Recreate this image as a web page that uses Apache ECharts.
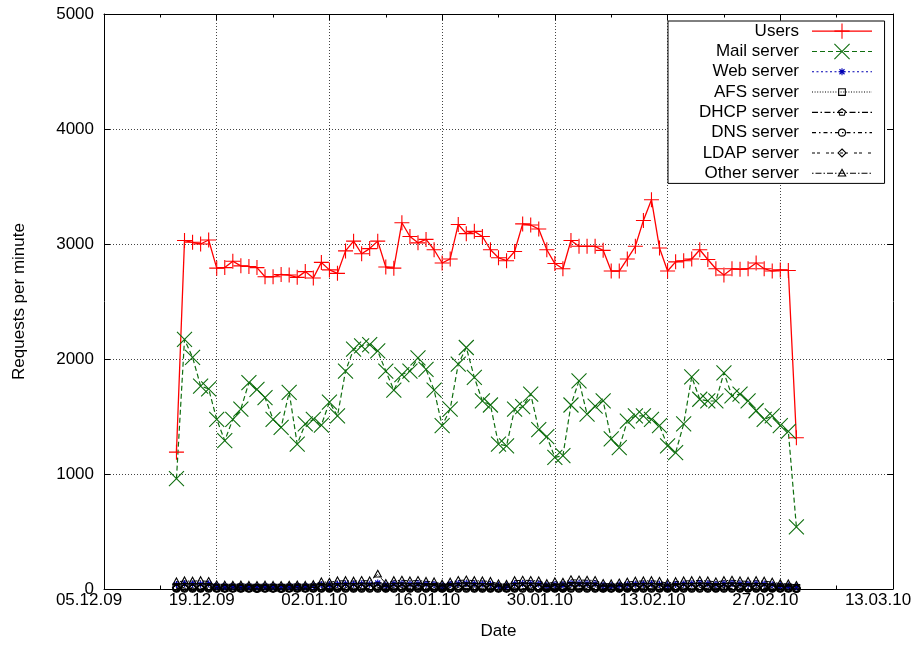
<!DOCTYPE html>
<html>
<head>
    <meta charset="utf-8">
    <title>Requests per minute</title>
    <script src="https://cdn.jsdelivr.net/npm/echarts@6/dist/echarts.min.js"></script>
    <style>
        html, body { margin: 0; padding: 0; background: #ffffff; }
        #chart { width: 918px; height: 645px; }
    </style>
</head>
<body>
<div id="chart"></div>
<script>
    // x positions are days after 05.12.09, first sample is 14.12.09 (one per day)
    var firstDay = 9;

    var users = [1190, 3030, 3015, 3000, 3035, 2790, 2795, 2850, 2810, 2805,
        2795, 2715, 2715, 2735, 2730, 2710, 2760, 2705, 2840, 2775,
        2745, 2940, 3025, 2915, 2960, 3025, 2800, 2790, 3185, 3065,
        3010, 3040, 2950, 2835, 2870, 3170, 3090, 3110, 3065, 2950,
        2880, 2855, 2935, 3175, 3165, 3130, 2950, 2830, 2785, 3030,
        2980, 2980, 2980, 2945, 2765, 2765, 2870, 2980, 3205, 3385,
        2965, 2765, 2845, 2855, 2870, 2950, 2865, 2785, 2730, 2785,
        2780, 2785, 2835, 2785, 2765, 2775, 2770, 1315];

    var mail = [960, 2170, 2015, 1765, 1740, 1475, 1290, 1475, 1565, 1795,
        1735, 1665, 1475, 1405, 1710, 1260, 1435, 1475, 1425, 1625,
        1505, 1895, 2085, 2115, 2125, 2070, 1895, 1730, 1865, 1895,
        2010, 1910, 1730, 1420, 1565, 1955, 2100, 1840, 1635, 1600,
        1260, 1245, 1565, 1585, 1695, 1385, 1325, 1145, 1160, 1600,
        1810, 1520, 1590, 1635, 1305, 1230, 1460, 1505, 1505, 1475,
        1420, 1245, 1185, 1435, 1845, 1650, 1635, 1635, 1880, 1680,
        1695, 1635, 1550, 1475, 1505, 1420, 1370, 540];

    var web = [40, 46, 44, 42, 45, 26, 24, 25, 27, 24,
        23, 25, 24, 23, 24, 26, 25, 28, 38, 36,
        42, 44, 43, 45, 41, 52, 34, 44, 46, 43,
        45, 42, 40, 30, 40, 46, 48, 44, 43, 41,
        30, 28, 44, 47, 46, 43, 32, 38, 36, 48,
        47, 46, 45, 33, 30, 34, 38, 42, 44, 46,
        41, 34, 40, 44, 46, 48, 45, 40, 46, 48,
        45, 42, 46, 43, 38, 30, 28, 20];

    var afs = [18, 20, 19, 18, 19, 12, 11, 12, 13, 12,
        11, 12, 11, 11, 12, 13, 12, 14, 18, 17,
        19, 20, 19, 21, 20, 24, 16, 20, 21, 19,
        20, 19, 18, 15, 18, 21, 22, 20, 19, 18,
        14, 13, 20, 22, 21, 19, 15, 17, 16, 22,
        21, 21, 20, 15, 14, 16, 17, 19, 20, 21,
        18, 15, 18, 20, 21, 22, 20, 18, 21, 22,
        20, 19, 21, 19, 17, 14, 13, 9];

    var dhcp = [5, 6, 6, 5, 6, 4, 4, 4, 5, 4,
        4, 4, 4, 4, 4, 5, 4, 5, 5, 5,
        6, 6, 6, 6, 6, 7, 5, 6, 6, 6,
        6, 6, 5, 5, 5, 6, 6, 6, 6, 5,
        4, 4, 6, 6, 6, 6, 5, 5, 5, 6,
        6, 6, 6, 5, 4, 5, 5, 6, 6, 6,
        5, 5, 5, 6, 6, 6, 6, 5, 6, 6,
        6, 5, 6, 5, 5, 4, 4, 3];

    var dns = [2, 3, 3, 2, 3, 2, 2, 2, 2, 2,
        1, 2, 2, 1, 2, 2, 2, 2, 2, 2,
        3, 3, 3, 3, 3, 3, 2, 3, 3, 3,
        3, 3, 2, 2, 2, 3, 3, 3, 3, 2,
        2, 2, 3, 3, 3, 3, 2, 2, 2, 3,
        3, 3, 3, 2, 2, 2, 2, 3, 3, 3,
        2, 2, 2, 3, 3, 3, 3, 2, 3, 3,
        3, 2, 3, 2, 2, 2, 2, 1];

    var ldap = [10, 12, 11, 11, 12, 8, 7, 8, 8, 8,
        7, 8, 7, 7, 8, 8, 8, 9, 10, 10,
        11, 12, 11, 12, 12, 13, 9, 11, 12, 11,
        12, 11, 10, 9, 10, 12, 12, 11, 11, 10,
        8, 8, 11, 12, 12, 11, 9, 10, 9, 12,
        12, 12, 11, 9, 8, 9, 10, 11, 11, 12,
        10, 9, 10, 11, 12, 12, 11, 10, 12, 12,
        11, 10, 11, 11, 10, 8, 8, 6];

    var other = [62, 70, 68, 72, 65, 35, 33, 32, 34, 31,
        30, 33, 31, 30, 32, 34, 31, 38, 62, 58,
        70, 72, 68, 74, 70, 128, 48, 72, 76, 70,
        74, 66, 62, 42, 60, 74, 78, 72, 70, 66,
        44, 40, 72, 76, 74, 70, 46, 62, 58, 80,
        78, 76, 74, 48, 44, 52, 60, 68, 70, 72,
        66, 50, 64, 70, 72, 74, 70, 62, 72, 76,
        70, 66, 72, 68, 60, 46, 44, 30];

    var fontFamily = '"Liberation Sans", Arial, Helvetica, sans-serif';

    // gnuplot style point types; the small ones carry empty corners so that
    // legend icons and plot points come out the same size
    var symPlus = 'path://M0,10L20,10M10,0L10,20';
    var symCross = 'path://M0,0L20,20M20,0L0,20';
    var symStar = 'path://M0,0M20,20M5.4,10L14.6,10M10,5.4L10,14.6M6.7,6.7L13.3,13.3M13.3,6.7L6.7,13.3';
    var symSquare = 'path://M0,0M20,20M5.6,5.6L14.4,5.6L14.4,14.4L5.6,14.4Z';
    var symPenta = 'path://M0,0M20,20M10,5.2L14.6,8.5L12.8,13.9L7.2,13.9L5.4,8.5Z';
    var symCircle = 'path://M0,0M20,20M14.6,10A4.6,4.6,0,1,1,5.4,10A4.6,4.6,0,1,1,14.6,10Z';
    var symDiamond = 'path://M0,0M20,20M10,4.8L15.2,10L10,15.2L4.8,10Z';
    var symTriangle = 'path://M0,0M20,20M10,4.8L14.8,13.6L5.2,13.6Z';

    function toPoints(values) {
        return values.map(function (v, i) { return [firstDay + i, v]; });
    }

    function dayLabel(v) {
        var d = new Date(Date.UTC(2009, 11, 5 + v));
        var dd = ('0' + d.getUTCDate()).slice(-2);
        var mm = ('0' + (d.getUTCMonth() + 1)).slice(-2);
        var yy = ('' + d.getUTCFullYear()).slice(-2);
        return dd + '.' + mm + '.' + yy;
    }

    function makeSeries(name, values, color, dash, symbol, size, width) {
        return {
            name: name,
            type: 'line',
            data: toPoints(values),
            symbol: symbol,
            symbolSize: size,
            showSymbol: true,
            lineStyle: { color: color, width: width, type: dash },
            itemStyle: { color: 'transparent', borderColor: color, borderWidth: 1.1 },
            emphasis: { disabled: true },
            silent: true
        };
    }

    var chart = echarts.init(document.getElementById('chart'), null, { renderer: 'canvas' });

    var tickStyle = { show: true, inside: true, length: 6, lineStyle: { color: '#000', width: 1 } };
    var minorStyle = { show: true, splitNumber: 2, length: 3.5, lineStyle: { color: '#000', width: 1 } };
    var gridLine = { show: true, lineStyle: { color: '#444', width: 1, type: [1, 2] } };

    var option = {
        animation: false,
        backgroundColor: '#ffffff',
        textStyle: { fontFamily: fontFamily },
        grid: { left: 104, right: 25, top: 14, bottom: 56 },
        legend: {
            orient: 'vertical',
            align: 'right',
            left: 668,
            top: 21,
            padding: [0, 12, 0, 6],
            itemWidth: 60,
            itemHeight: 19,
            itemGap: 0,
            backgroundColor: '#ffffff',
            borderColor: '#000',
            borderWidth: 1,
            selectedMode: false,
            itemStyle: { borderWidth: 1.1 },
            lineStyle: { width: 1.1 },
            textStyle: {
                fontFamily: fontFamily, fontSize: 17, color: '#000',
                width: 125, padding: [0, 8, 0, 0], lineHeight: 20.3
            }
        },
        xAxis: [{
            type: 'value',
            min: 0,
            max: 98,
            interval: 14,
            position: 'bottom',
            name: 'Date',
            nameLocation: 'middle',
            nameGap: 34,
            nameTextStyle: { fontSize: 17, color: '#000', fontFamily: fontFamily },
            axisLine: { show: true, lineStyle: { color: '#000', width: 1 } },
            axisTick: tickStyle,
            minorTick: minorStyle,
            splitLine: gridLine,
            axisLabel: {
                fontSize: 17, color: '#000', fontFamily: fontFamily,
                margin: 3, padding: [0, 30, 0, 0],
                formatter: dayLabel
            }
        }, {
            type: 'value',
            min: 0,
            max: 98,
            interval: 14,
            position: 'top',
            axisLine: { show: true, onZero: false, lineStyle: { color: '#000', width: 1 } },
            axisTick: tickStyle,
            minorTick: minorStyle,
            splitLine: { show: false },
            axisLabel: { show: false }
        }],
        yAxis: [{
            type: 'value',
            min: 0,
            max: 5000,
            interval: 1000,
            position: 'left',
            name: 'Requests per minute',
            nameLocation: 'middle',
            nameGap: 76,
            nameTextStyle: { fontSize: 17, color: '#000', fontFamily: fontFamily },
            axisLine: { show: true, lineStyle: { color: '#000', width: 1 } },
            axisTick: tickStyle,
            splitLine: gridLine,
            axisLabel: {
                fontSize: 17, color: '#000', fontFamily: fontFamily, margin: 10,
                formatter: function (v) { return String(v); }
            }
        }, {
            type: 'value',
            min: 0,
            max: 5000,
            interval: 1000,
            position: 'right',
            axisLine: { show: true, onZero: false, lineStyle: { color: '#000', width: 1 } },
            axisTick: tickStyle,
            splitLine: { show: false },
            axisLabel: { show: false }
        }],
        series: [
            makeSeries('Users', users, '#ff0000', 'solid', symPlus, 15, 1.3),
            makeSeries('Mail server', mail, '#0f6e0f', [5, 3], symCross, 15, 1.2),
            makeSeries('Web server', web, '#0000b4', [2, 2.5], symStar, 15.2, 1.2),
            makeSeries('AFS server', afs, '#000000', [1, 1.6], symSquare, 15.2, 1),
            makeSeries('DHCP server', dhcp, '#000000', [6, 2.5, 1.5, 2.5], symPenta, 15.2, 1),
            makeSeries('DNS server', dns, '#000000', [4, 3, 1.5, 3], symCircle, 15.2, 1),
            makeSeries('LDAP server', ldap, '#000000', [3, 2, 3, 6], symDiamond, 15.2, 1),
            makeSeries('Other server', other, '#000000', [1.5, 2, 6, 2], symTriangle, 15.2, 1)
        ]
    };

    chart.setOption(option);
</script>
</body>
</html>
